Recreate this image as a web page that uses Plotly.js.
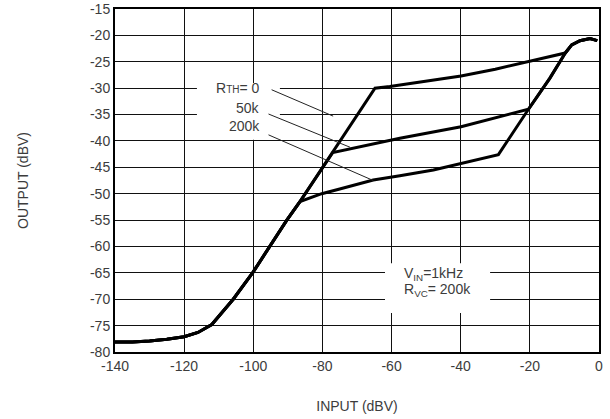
<!DOCTYPE html>
<html>
<head>
<meta charset="utf-8">
<script src="https://cdn.plot.ly/plotly-3.0.1.min.js"></script>
<style>html,body{margin:0;padding:0;background:#fff;}#chart{width:610px;height:419px;}</style>
</head>
<body>
<div id="chart"></div>
<script>
// Shared low-level part of all curves (INPUT dBV, OUTPUT dBV)
var lowX = [-140, -135, -130, -125, -120, -116, -112, -108, -105.8, -100, -95.2, -90.3, -86.5];
var lowY = [-78.1, -78.1, -77.9, -77.6, -77.1, -76.3, -74.8, -71.8, -70.0, -64.8, -59.9, -55.0, -51.5];
// Unity-slope continuation (50k and 0 curves)
var riseX = [-77.0, -64.8];
var riseY = [-42.2, -30.0];
// R_TH = 0 branch
var r0X = [-60.5, -50, -39.9, -30, -19.95, -9.8];
var r0Y = [-29.7, -28.7, -27.7, -26.4, -24.9, -23.35];
// R_TH = 50k branch
var r50X = [-57.6, -39.9, -20.4];
var r50Y = [-39.5, -37.3, -34.0];
// R_TH = 200k branch
var r200X = [-80.2, -75, -70, -65.3, -57.6, -47.9, -29.1];
var r200Y = [-50.0, -49.1, -48.2, -47.4, -46.6, -45.5, -42.6];
// Steep unity-slope part after 200k knee
var steepX = [-27.2, -20.4, -14.2, -9.8];
var steepY = [-40.7, -34.0, -28.1, -23.4];
// Limiting top
var topX = [-7.9, -5.5, -2.6, -0.5];
var topY = [-21.8, -21.0, -20.6, -21.0];

// Leader lines [x0, y0, x1, y1]
var leader0 = [-94.7, -30.3, -76.9, -35.3];
var leader50 = [-95.6, -34.9, -72.0, -41.2];
var leader200 = [-95.6, -38.85, -65.3, -47.5];

var xTicks = [-140, -120, -100, -80, -60, -40, -20, 0];
var yTicks = [-80, -75, -70, -65, -60, -55, -50, -45, -40, -35, -30, -25, -20, -15];

function cat() { var o = []; for (var i = 0; i < arguments.length; i++) o = o.concat(arguments[i]); return o; }

var curveLine = {color: '#000', width: 3};
var traces = [
  {x: cat(lowX, riseX, r0X, topX), y: cat(lowY, riseY, r0Y, topY), name: 'RTH=0'},
  {x: cat(lowX, [-77.0], r50X, steepX.slice(2), topX), y: cat(lowY, [-42.2], r50Y, steepY.slice(2), topY), name: 'RTH=50k'},
  {x: cat(lowX, r200X, steepX, topX), y: cat(lowY, r200Y, steepY, topY), name: 'RTH=200k'}
].map(function (t) { t.mode = 'lines'; t.line = curveLine; t.hoverinfo = 'skip'; return t; });

[leader0, leader50, leader200].forEach(function (l) {
  traces.push({x: [l[0], l[2]], y: [l[1], l[3]], mode: 'lines', line: {color: '#222', width: 1}, hoverinfo: 'skip'});
});

var font = {family: '"Liberation Sans", Arial, Helvetica, sans-serif', size: 14, color: '#3c3c3c'};

var layout = {
  width: 610, height: 419,
  margin: {l: 115, r: 11, t: 9, b: 67},
  paper_bgcolor: '#fff', plot_bgcolor: '#fff',
  showlegend: false,
  font: font,
  xaxis: {
    range: [-140, 0], tickvals: xTicks, ticktext: xTicks.map(String),
    showgrid: true, gridcolor: '#111', gridwidth: 1, zeroline: false,
    showline: true, mirror: true, linecolor: '#000', linewidth: 2,
    ticks: '', ticklen: 0, tickfont: font,
    title: {text: 'INPUT (dBV)', font: font, standoff: 28}
  },
  yaxis: {
    range: [-80, -15], tickvals: yTicks, ticktext: yTicks.map(String),
    showgrid: true, gridcolor: '#111', gridwidth: 1, zeroline: false,
    showline: true, mirror: true, linecolor: '#000', linewidth: 2,
    ticks: '', ticklen: 0, tickfont: font,
    title: {text: 'OUTPUT (dBV)', font: font, standoff: 58}
  },
  shapes: [
    {type: 'rect', layer: 'between', xref: 'x', yref: 'y', x0: -116.3, x1: -92.3, y0: -39.8, y1: -29.0, fillcolor: '#fff', line: {width: 0}},
    {type: 'rect', layer: 'between', xref: 'x', yref: 'y', x0: -61.9, x1: -31.5, y0: -72.6, y1: -63.2, fillcolor: '#fff', line: {width: 0}}
  ],
  annotations: [
    {x: -97.6, y: -30.0, text: 'R<span style="font-size:10px">TH</span>= 0', xanchor: 'right', yanchor: 'middle', showarrow: false, font: font},
    {x: -97.6, y: -33.7, text: '50k', xanchor: 'right', yanchor: 'middle', showarrow: false, font: font},
    {x: -97.6, y: -37.1, text: '200k', xanchor: 'right', yanchor: 'middle', showarrow: false, font: font},
    {x: -57.1, y: -65.2, text: 'V<sub>IN</sub>=1kHz', xanchor: 'left', yanchor: 'middle', showarrow: false, font: font},
    {x: -57.1, y: -68.3, text: 'R<sub>VC</sub>= 200k', xanchor: 'left', yanchor: 'middle', showarrow: false, font: font}
  ]
};

Plotly.newPlot('chart', traces, layout, {staticPlot: true, displayModeBar: false});
</script>
</body>
</html>
